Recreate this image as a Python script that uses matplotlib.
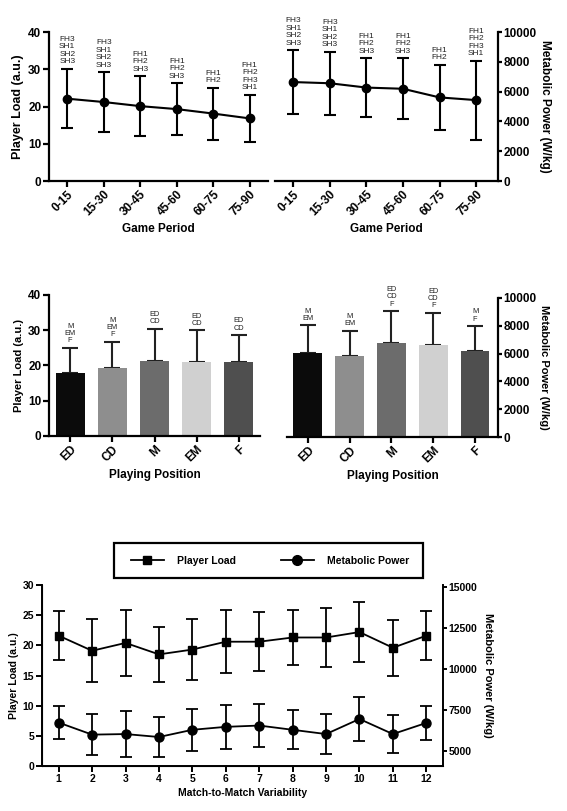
import numpy as np
import matplotlib
matplotlib.use('Agg')
import matplotlib.pyplot as plt
from matplotlib.lines import Line2D
from matplotlib.patches import Rectangle

plt.rcParams['font.family'] = ['Liberation Sans', 'DejaVu Sans']
plt.rcParams['font.weight'] = 'bold'
plt.rcParams['axes.labelweight'] = 'bold'

# --- game period data ---
periods = ['0-15', '15-30', '30-45', '45-60', '60-75', '75-90']
pl_period = [22.1, 21.2, 20.1, 19.3, 18.1, 16.8]
pl_period_sd = [8.0, 8.0, 8.0, 7.0, 7.0, 6.3]
mp_period = [6640, 6560, 6270, 6190, 5610, 5430]
mp_period_sd = [2150, 2100, 1960, 2060, 2190, 2650]
period_notes = ['FH3\nSH1\nSH2\nSH3', 'FH3\nSH1\nSH2\nSH3', 'FH1\nFH2\nSH3',
                'FH1\nFH2\nSH3', 'FH1\nFH2', 'FH1\nFH2\nFH3\nSH1']

# --- playing position data ---
positions = ['ED', 'CD', 'M', 'EM', 'F']
pos_colors = ['#0b0b0b', '#8e8e8e', '#6c6c6c', '#d0d0d0', '#4f4f4f']
pl_pos = [17.8, 19.3, 21.4, 21.1, 20.9]
pl_pos_sd = [7.2, 7.4, 9.0, 8.9, 7.7]
mp_pos = [6010, 5820, 6740, 6620, 6180]
mp_pos_sd = [2030, 1840, 2320, 2320, 1790]
pl_pos_notes = ['M\nEM\nF', 'M\nEM\nF', 'ED\nCD', 'ED\nCD', 'ED\nCD']
mp_pos_notes = ['M\nEM', 'M\nEM', 'ED\nCD\nF', 'ED\nCD\nF', 'M\nF']

# --- match-to-match data ---
matches = list(range(1, 13))
pl_match = [21.6, 19.1, 20.4, 18.5, 19.3, 20.6, 20.6, 21.3, 21.3, 22.2, 19.6, 21.6]
pl_match_sd = [4.1, 5.2, 5.4, 4.5, 5.1, 5.2, 4.9, 4.6, 4.9, 5.0, 4.65, 4.1]
mp_match = [6750, 6015, 6050, 5870, 6310, 6490, 6570, 6310, 6050, 6970, 6050, 6730]
mp_match_sd = [1030, 1250, 1400, 1215, 1290, 1360, 1330, 1180, 1215, 1330, 1180, 1030]

W, H = 567, 811
fig = plt.figure(figsize=(W / 100, H / 100), dpi=100)


def box(l, r, t, b):
    return [l / W, (H - b) / H, (r - l) / W, (b - t) / H]


def style(ax, left=True, right=False, lw=1.6):
    ax.spines['top'].set_visible(False)
    ax.spines['left'].set_visible(left)
    ax.spines['right'].set_visible(right)
    for s in ['left', 'right', 'bottom']:
        ax.spines[s].set_linewidth(lw)
    ax.tick_params(width=lw, length=4, labelsize=8.5, pad=1.5)
    if right:
        ax.tick_params(axis='y', length=3, pad=1)
    ax.set_facecolor('none')


def notes(ax, xs, tops, texts, fs, ls):
    for x, t, s in zip(xs, tops, texts):
        ax.annotate(s, (x, t), xytext=(0, 2.5), textcoords='offset points',
                    ha='center', va='bottom', fontsize=fs, linespacing=ls,
                    fontweight='normal', color='#222222')


x6 = np.arange(len(periods))
# top left
ax = fig.add_axes(box(49, 268, 32, 181))
style(ax)
ax.errorbar(x6, pl_period, yerr=pl_period_sd, color='black', lw=1.5,
            marker='o', ms=6, capsize=4, capthick=1.5, elinewidth=1.5)
ax.set_xlim(-0.5, 5.5)
ax.set_ylim(0, 40)
ax.set_yticks([0, 10, 20, 30, 40])
ax.set_xticks(x6)
ax.set_xticklabels(periods, rotation=45, ha='right', rotation_mode='anchor')
ax.set_ylabel('Player Load (a.u.)', fontsize=9, labelpad=3)
ax.set_xlabel('Game Period', fontsize=8.5, labelpad=3)
notes(ax, x6, np.add(pl_period, pl_period_sd), period_notes, 6, 1.1)

# top right
ax = fig.add_axes(box(275, 498, 32, 181))
style(ax, left=False, right=True)
ax.yaxis.tick_right()
ax.yaxis.set_label_position('right')
ax.errorbar(x6, mp_period, yerr=mp_period_sd, color='black', lw=1.5,
            marker='o', ms=6, capsize=4, capthick=1.5, elinewidth=1.5)
ax.set_xlim(-0.5, 5.6)
ax.set_ylim(0, 10000)
ax.set_yticks(range(0, 10001, 2000))
ax.set_xticks(x6)
ax.set_xticklabels(periods, rotation=45, ha='right', rotation_mode='anchor')
ax.set_ylabel('Metabolic Power (W/kg)', fontsize=8.5, rotation=-90, labelpad=10)
ax.set_xlabel('Game Period', fontsize=8.5, labelpad=3)
notes(ax, x6, np.add(mp_period, mp_period_sd), period_notes, 6, 1.1)

x5 = np.arange(len(positions))
# middle left
ax = fig.add_axes(box(49, 260, 295, 436))
style(ax)
ax.bar(x5, pl_pos, width=0.69, color=pos_colors, zorder=2)
ax.errorbar(x5, pl_pos, yerr=[np.zeros(5), pl_pos_sd], fmt='none',
            ecolor='#222222', elinewidth=1.5, capsize=6, capthick=1.5, zorder=1)
ax.set_xlim(-0.5, 4.5)
ax.set_ylim(0, 40)
ax.set_yticks([0, 10, 20, 30, 40])
ax.set_xticks(x5)
ax.set_xticklabels(positions, rotation=45, ha='right', rotation_mode='anchor')
ax.set_ylabel('Player Load (a.u.)', fontsize=8, labelpad=3)
ax.set_xlabel('Playing Position', fontsize=8.5, labelpad=3)
notes(ax, x5, np.add(pl_pos, pl_pos_sd), pl_pos_notes, 5.3, 1.05)

# middle right
ax = fig.add_axes(box(287, 498, 298, 437))
style(ax, left=False, right=True)
ax.yaxis.tick_right()
ax.yaxis.set_label_position('right')
ax.bar(x5, mp_pos, width=0.69, color=pos_colors, zorder=2)
ax.errorbar(x5, mp_pos, yerr=[np.zeros(5), mp_pos_sd], fmt='none',
            ecolor='#222222', elinewidth=1.5, capsize=6, capthick=1.5, zorder=1)
ax.set_xlim(-0.5, 4.55)
ax.set_ylim(0, 10000)
ax.set_yticks(range(0, 10001, 2000))
ax.set_xticks(x5)
ax.set_xticklabels(positions, rotation=45, ha='right', rotation_mode='anchor')
ax.set_ylabel('Metabolic Power (W/kg)', fontsize=8, rotation=-90, labelpad=9)
ax.set_xlabel('Playing Position', fontsize=8.5, labelpad=3)
notes(ax, x5, np.add(mp_pos, mp_pos_sd), mp_pos_notes, 5.3, 1.05)

# bottom: match-to-match
ax = fig.add_axes(box(42, 443, 585, 766))
style(ax, left=True, right=False, lw=1.4)
ax.errorbar(matches, pl_match, yerr=pl_match_sd, color='black', lw=1.3,
            marker='s', ms=6, capsize=4, capthick=1.3, elinewidth=1.3)
ax.set_xlim(0.5, 12.5)
ax.set_ylim(0, 30)
ax.set_yticks(range(0, 31, 5))
ax.set_xticks(matches)
ax.tick_params(labelsize=7.5)
ax.set_ylabel('Player Load (a.u.)', fontsize=7.5, labelpad=3)
ax.set_xlabel('Match-to-Match Variability', fontsize=7.5, labelpad=3)

ax2 = ax.twinx()
ax2.spines['top'].set_visible(False)
ax2.spines['right'].set_linewidth(1.4)
ax2.errorbar(matches, mp_match, yerr=mp_match_sd, color='black', lw=1.3,
             marker='o', ms=6.5, capsize=4, capthick=1.3, elinewidth=1.3)
ax2.set_ylim(4100, 15150)
ax2.set_yticks(range(5000, 15001, 2500))
ax2.tick_params(width=1.4, length=3, labelsize=7.5, pad=1)
ax2.set_ylabel('Metabolic Power (W/kg)', fontsize=8, rotation=-90, labelpad=11)

# legend box drawn separately for exact padding
fig.patches.append(Rectangle((114 / W, (H - 578) / H), 309 / W, 35 / H,
                             transform=fig.transFigure, fill=False,
                             edgecolor='black', lw=1.6))
handles = [Line2D([], [], color='black', marker='s', ms=6, lw=1.3),
           Line2D([], [], color='black', marker='o', ms=7, lw=1.3)]
fig.legend(handles, ['Player Load', 'Metabolic Power'], ncol=2,
           loc='center', bbox_to_anchor=(270 / W, (H - 560.5) / H),
           fontsize=7.5, frameon=False, handlelength=3.2,
           columnspacing=4.3, handletextpad=1.25)

fig.savefig('out.png', dpi=100, facecolor='white')
